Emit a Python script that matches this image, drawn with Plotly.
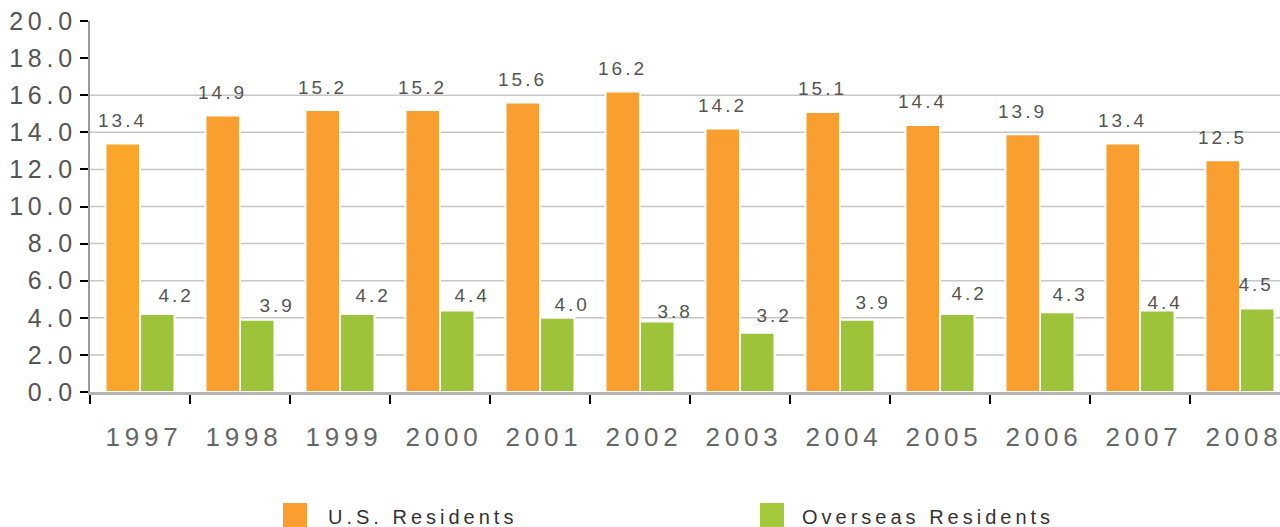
import plotly.graph_objects as go

# ---------------- data ----------------
years = ["1997", "1998", "1999", "2000", "2001", "2002",
         "2003", "2004", "2005", "2006", "2007", "2008"]
us_residents = [13.4, 14.9, 15.2, 15.2, 15.6, 16.2, 14.2, 15.1, 14.4, 13.9, 13.4, 12.5]
overseas_residents = [4.2, 3.9, 4.2, 4.4, 4.0, 3.8, 3.2, 3.9, 4.2, 4.3, 4.4, 4.5]
series_names = ["U.S. Residents", "Overseas Residents"]
y_ticks = [0, 2, 4, 6, 8, 10, 12, 14, 16, 18, 20]
grid_levels = [2, 4, 6, 8, 10, 12, 14, 16]

# label placement offsets (pixels) for the overseas value labels
overseas_label_dx = [36, 37, 33, 32, 32, 35, 34, 33, 29, 30, 25, 16]
overseas_label_dy = [19, 14, 19, 15, 13, 10, 17, 17, 21, 18, 8, 24]

# ---------------- style ----------------
W, H = 1280, 527
ML, MT, MB, MR = 90, 21, 135, 0
PW = W - ML - MR
PH = H - MT - MB
FONT = "Liberation Sans, Arial, Helvetica, sans-serif"
ORANGE = "#F99E2F"
ORANGE_FIRST = "#FAA62A"
GREEN = "#9DC33A"


def px2x(px):
    return (px - ML) / PW


def py2y(py):
    return (MT + PH - py) / PH


orange_colors = [ORANGE_FIRST] + [ORANGE] * (len(years) - 1)

fig = go.Figure()
fig.add_trace(go.Bar(
    x=years, y=us_residents, name=series_names[0],
    marker=dict(color=orange_colors, line=dict(color="white", width=2)),
    hoverinfo="x+y",
))
fig.add_trace(go.Bar(
    x=years, y=overseas_residents, name=series_names[1],
    marker=dict(color=GREEN, line=dict(color="white", width=2)),
    hoverinfo="x+y",
))

# horizontal grid lines (only up to 16 in the original)
for g in grid_levels:
    fig.add_shape(type="line", xref="paper", yref="y", x0=0, x1=1, y0=g, y1=g,
                  line=dict(color="#c6c6c6", width=1.5), layer="below")

annotations = []
for i, v in enumerate(us_residents):
    annotations.append(dict(
        x=i, y=v, xref="x", yref="y", text=f"{v:.1f}", showarrow=False,
        xshift=-18, yshift=23, yanchor="middle", xanchor="center",
        font=dict(family=FONT, size=19, color="#555555"),
    ))
for i, (v, dx, dy) in enumerate(zip(overseas_residents, overseas_label_dx, overseas_label_dy)):
    annotations.append(dict(
        x=i, y=v, xref="x", yref="y", text=f"{v:.1f}", showarrow=False,
        xshift=dx, yshift=dy, yanchor="middle", xanchor="center",
        font=dict(family=FONT, size=19, color="#555555"),
    ))

# custom legend
legend_items = [
    (series_names[0], ORANGE, 283, 307, 422),
    (series_names[1], "#A2C93A", 760, 784, 928),
]
for name, col, x0, x1, tc in legend_items:
    fig.add_shape(type="rect", xref="paper", yref="paper",
                  x0=px2x(x0), x1=px2x(x1), y0=py2y(527), y1=py2y(503),
                  line=dict(width=0), fillcolor=col)
    annotations.append(dict(
        x=px2x(tc), y=py2y(517), xref="paper", yref="paper", text=name,
        showarrow=False, xanchor="center", yanchor="middle",
        font=dict(family=FONT, size=20, color="#333333"),
    ))

fig.update_layout(
    width=W, height=H,
    margin=dict(l=ML, r=MR, t=MT, b=MB, pad=0, autoexpand=False),
    paper_bgcolor="white", plot_bgcolor="white",
    barmode="group", bargap=0.31, bargroupgap=0.0,
    showlegend=False,
    annotations=annotations,
    font=dict(family=FONT),
)
fig.update_xaxes(
    type="category", range=[-0.5, 11.4], automargin=False,
    showgrid=False, zeroline=False,
    showline=True, linecolor="#b5b5b5", linewidth=3,
    ticks="outside", tickson="boundaries", ticklen=9, tickwidth=2, tickcolor="black",
    tickfont=dict(family=FONT, size=26, color="#666666"),
    ticklabelstandoff=20, ticklabelshift=4,
)
fig.update_yaxes(
    range=[0, 20], tickmode="array", tickvals=y_ticks, automargin=False,
    ticktext=[f"{t:.1f}" for t in y_ticks],
    showgrid=False, zeroline=False,
    showline=True, linecolor="#9a9a9a", linewidth=2,
    ticks="outside", ticklen=8, tickwidth=2, tickcolor="black",
    tickfont=dict(family=FONT, size=25, color="#555555"),
    ticklabelstandoff=-2,
)

post = """
document.body.style.margin = '0';
document.body.style.overflow = 'hidden';
document.querySelectorAll('svg text').forEach(function(t){
  var fs = parseFloat(t.style.fontSize) || 0;
  var ls = fs >= 24 ? 4.8 : (fs >= 20 ? 4 : 3);
  t.style.letterSpacing = ls + 'px';
});
"""

fig.write_html("out.html", post_script=post, config={"displayModeBar": False})
